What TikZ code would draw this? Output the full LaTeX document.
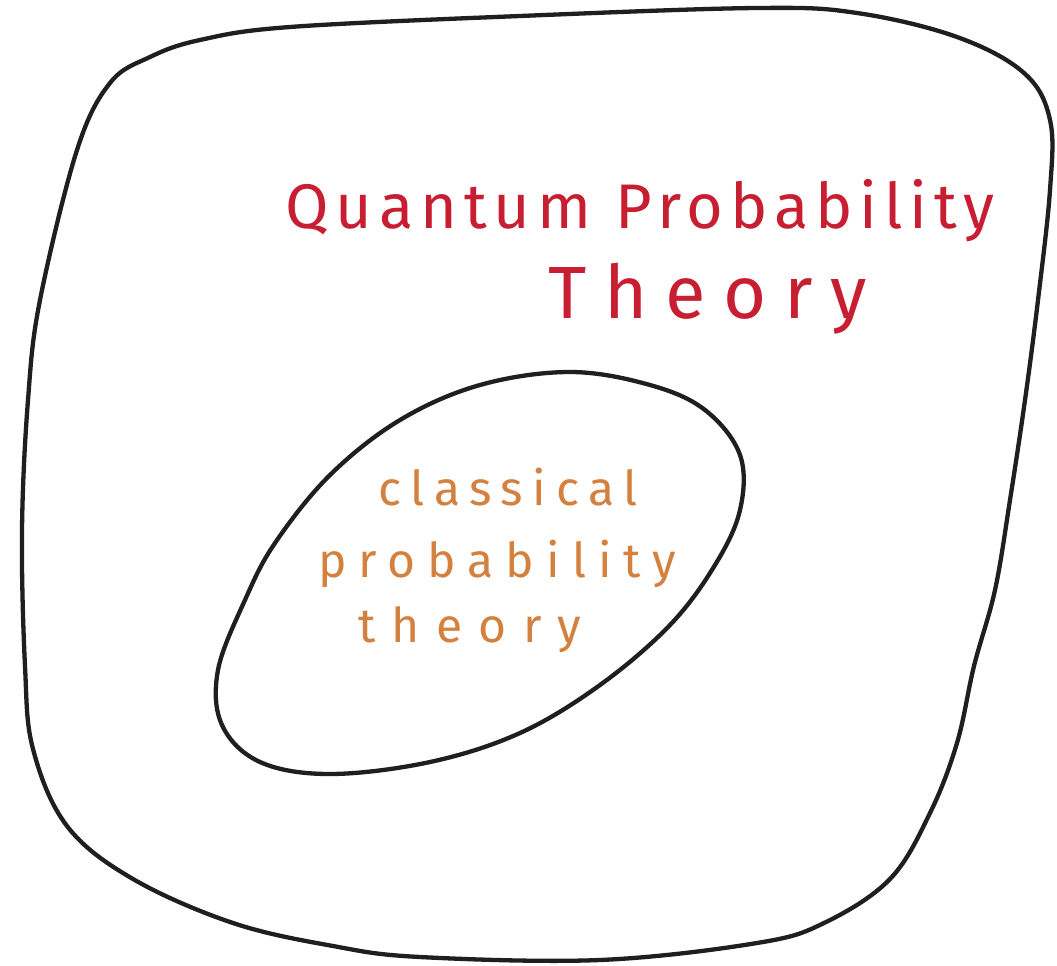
\documentclass[tikz,border=0pt]{standalone}
\usepackage{fontspec}
\newfontfamily\handfont{Fira Sans}
\definecolor{inkblack}{RGB}{30,30,35}
\definecolor{inkred}{RGB}{200,30,50}
\definecolor{inkorange}{RGB}{212,128,62}
\tikzset{
  blob/.style={draw=inkblack, line width=4.3pt, line join=round},
  redtext/.style={text=inkred, inner sep=0pt, anchor=base west},
  orangetext/.style={text=inkorange, inner sep=0pt, anchor=base west}
}
\begin{document}
\begin{tikzpicture}[x=1pt,y=-1pt]
\useasboundingbox (0,0) rectangle (1057,966);
\fill[white] (0,0) rectangle (1057,966);
% outer region
\draw[blob] plot[smooth cycle, tension=0.6] coordinates {
 (40,300) (77,150) (110,83) (150,57) (200,40) (290,27) (520,16) (757,8)
 (857,13) (957,37) (1024,73) (1050,120) (1050,190) (1038,300) (1025,400)
 (1010,500) (995,590) (974,666) (957,743) (930,813) (890,879) (824,923)
 (757,943) (600,960) (420,957) (333,946) (233,923) (133,879) (67,826)
 (33,749) (25,666) (22,530) (28,400)};
% inner region
\draw[blob] plot[smooth cycle, tension=0.6] coordinates {
 (570,372) (650,385) (705,410) (740,455) (740,510) (715,565) (670,625)
 (600,685) (520,733) (430,762) (330,774) (260,762) (222,725) (218,670)
 (245,600) (275,543) (330,475) (400,420) (480,385)};
% labels
\node[redtext, font=\handfont\addfontfeature{LetterSpace=11}\fontsize{63}{63}\selectfont] (q1) at (285,228) {Quantum Probability};
\node[redtext, font=\handfont\addfontfeature{LetterSpace=24}\fontsize{74}{74}\selectfont] (q2) at (548,318) {Theory};
\node[orangetext, font=\handfont\addfontfeature{LetterSpace=20}\fontsize{48}{48}\selectfont] (c1) at (378,505) {classical};
\node[orangetext, font=\handfont\addfontfeature{LetterSpace=25}\fontsize{48}{48}\selectfont] (c2) at (318,577) {probability};
\node[orangetext, font=\handfont\addfontfeature{LetterSpace=34}\fontsize{48}{48}\selectfont] (c3) at (358,642) {theory};
\end{tikzpicture}
\end{document}
